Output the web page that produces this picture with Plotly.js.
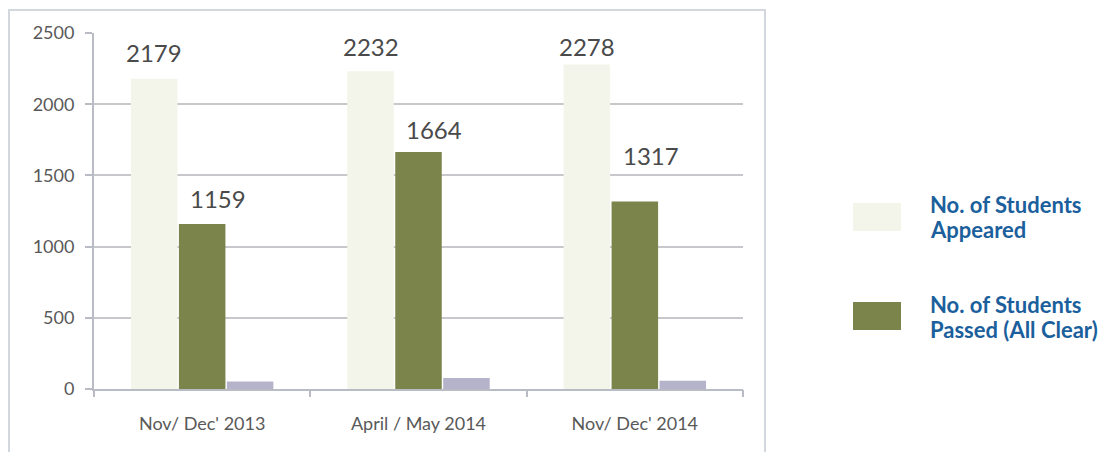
<!DOCTYPE html>
<html>
<head>
<meta charset="utf-8">
<script src="https://cdn.plot.ly/plotly-3.0.1.min.js"></script>
<style>html,body{margin:0;padding:0;background:#fff;}#chart{width:1115px;height:452px;}</style>
</head>
<body>
<div id="chart"></div>
<script>
// ---- data ----
const categories = ["Nov/ Dec' 2013", "April / May 2014", "Nov/ Dec' 2014"];
const appeared = [2179, 2232, 2278];
const passed = [1159, 1664, 1317];
const thirdSeries = [53, 77, 58];
const seriesNames = ["No. of Students<br>Appeared", "No. of Students<br>Passed (All Clear)"];
const yTicks = [0, 500, 1000, 1500, 2000, 2500];

// ---- styles ----
const colAppeared = '#f3f5ea';
const colPassed = '#7b844a';
const colThird = '#b5b3c9';
const gridCol = '#c6c8cc';
const labelFont = {family: 'Lato, Carlito, sans-serif', size: 24, color: '#4a4a4a'};
const bargap = 0.335;
const nSeries = 3;
const barW = (1 - bargap) / nSeries;
// per-label shifts in px (style, not data)
const appShiftY = [26, 25, 18];
const passShiftY = [25, 23, 46];
const passShiftX = [16, 15, 16];

// plot area in px, used to place frame/legend in paper units
const L = 94, R = 372, T = 33, B = 63, W = 1115, H = 452;
const pw = W - L - R, ph = H - T - B;
const px = v => (v - L) / pw;
const py = v => (H - B - v) / ph;

const idx = categories.map((c, i) => i);

const traces = [
  {type: 'bar', x: idx, y: appeared, marker: {color: colAppeared}, hoverinfo: 'y', showlegend: false},
  {type: 'bar', x: idx, y: passed, marker: {color: colPassed}, hoverinfo: 'y', showlegend: false},
  {type: 'bar', x: idx, y: thirdSeries, marker: {color: colThird}, hoverinfo: 'y', showlegend: false}
];

const annotations = [];
appeared.forEach((v, i) => annotations.push({
  x: i - barW, y: v, xref: 'x', yref: 'y', text: String(v), showarrow: false,
  yanchor: 'middle', yshift: appShiftY[i], font: labelFont
}));
passed.forEach((v, i) => annotations.push({
  x: i, y: v, xref: 'x', yref: 'y', text: String(v), showarrow: false,
  yanchor: 'middle', yshift: passShiftY[i], xshift: passShiftX[i], font: labelFont
}));
// legend text (one annotation per line for tight line spacing)
const legFont = {family: 'Lato, sans-serif', size: 22, color: '#1b5f9c', weight: 'bold'};
const legTextY = [204, 304];
const legLineH = 25;
seriesNames.forEach((n, i) => n.split('<br>').forEach((line, j) => annotations.push({
  x: px(928), y: py(legTextY[i] + j * legLineH), xref: 'paper', yref: 'paper', text: '<b>' + line + '</b>',
  showarrow: false, xanchor: 'left', yanchor: 'middle', align: 'left', font: legFont
})));

const shapes = [
  // outer frame
  {type: 'rect', xref: 'paper', yref: 'paper', x0: px(9), x1: px(765), y0: py(470), y1: py(10),
   line: {color: '#d3d8de', width: 2}, fillcolor: 'rgba(0,0,0,0)', layer: 'below'},
  // legend boxes
  {type: 'rect', xref: 'paper', yref: 'paper', x0: px(853), x1: px(901), y0: py(231), y1: py(203),
   line: {width: 0}, fillcolor: colAppeared},
  {type: 'rect', xref: 'paper', yref: 'paper', x0: px(853), x1: px(901), y0: py(330), y1: py(302),
   line: {width: 0}, fillcolor: colPassed}
];

const tickFont = {family: 'Lato, Carlito, sans-serif', size: 18, color: '#595959'};

const layout = {
  width: W, height: H,
  margin: {l: L, r: R, t: T, b: B, pad: 0},
  paper_bgcolor: '#fff', plot_bgcolor: '#fff',
  barmode: 'group', bargap: bargap, bargroupgap: 0.03,
  showlegend: false,
  xaxis: {
    type: 'linear', range: [-0.5, categories.length - 0.5],
    tickvals: idx, ticktext: categories,
    showgrid: false, zeroline: false,
    showline: true, linecolor: '#b9bcc4', linewidth: 2,
    ticks: '', ticklabelstandoff: 17,
    tickfont: tickFont
  },
  yaxis: {
    range: [0, 2500], tickvals: yTicks, ticktext: yTicks.map(String),
    showgrid: true, gridcolor: gridCol, gridwidth: 2,
    zeroline: false, showline: true, linecolor: '#b9bcc4', linewidth: 2,
    ticks: 'outside', ticklen: 7, tickcolor: '#b9bcc4', tickwidth: 2,
    ticklabelstandoff: 7,
    tickfont: tickFont
  },
  annotations: annotations,
  shapes: shapes
};

// boundary ticks on x axis between categories
layout.xaxis2 = {
  overlaying: 'x', range: [-0.5, categories.length - 0.5],
  tickvals: categories.map((c, i) => i + 0.5).concat([-0.5]), ticktext: categories.map(() => '').concat(['']),
  ticks: 'outside', ticklen: 7, tickcolor: '#b9bcc4', tickwidth: 2,
  showgrid: false, zeroline: false, showline: false, side: 'bottom', anchor: 'y'
};
traces.push({type: 'scatter', x: [], y: [], xaxis: 'x2', yaxis: 'y', showlegend: false, hoverinfo: 'skip'});

Plotly.newPlot('chart', traces, layout, {displayModeBar: false, staticPlot: true});
</script>
</body>
</html>
